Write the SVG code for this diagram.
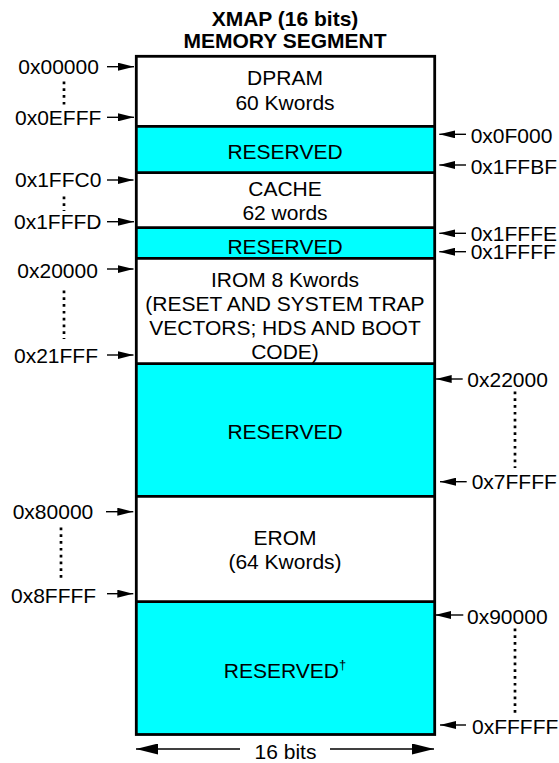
<svg xmlns="http://www.w3.org/2000/svg" width="559" height="763" viewBox="0 0 559 763">
<style>
text{font-family:"Liberation Sans",Arial,sans-serif;font-size:21px;fill:#000}
.c{text-anchor:middle}
.t{font-weight:bold}
.frame{fill:none;stroke:#000;stroke-width:2.8}
.div{stroke:#000;stroke-width:2.8}
.res{fill:#00FFFF}
.arr{stroke:#000;stroke-width:1.4;fill:none}
.dots{stroke:#000;stroke-width:2.7;stroke-dasharray:2.7 4.1;fill:none}
</style>
<defs>
<marker id="ah" markerUnits="userSpaceOnUse" markerWidth="16" markerHeight="8" refX="16" refY="4" orient="auto">
<path d="M0,0 L16,4 L0,8 z" fill="#000"/>
</marker>
<marker id="ahb" markerUnits="userSpaceOnUse" markerWidth="22" markerHeight="11" refX="22" refY="5.5" orient="auto">
<path d="M0,0 L22,5.5 L0,11 z" fill="#000"/>
</marker>
</defs>
<rect width="559" height="763" fill="#fff"/>
<g id="title">
<text class="c t" x="285" y="26">XMAP (16 bits)</text>
<text class="c t" x="285" y="48">MEMORY SEGMENT</text>
</g>
<g id="dpram">
<text class="c" x="285" y="85">DPRAM</text>
<text class="c" x="285" y="109.5">60 Kwords</text>
</g>
<g id="reserved1">
<rect class="res" x="136.3" y="126.3" width="298.4" height="46.4"/>
<text class="c" x="285" y="159">RESERVED</text>
</g>
<g id="cache">
<text class="c" x="285" y="196">CACHE</text>
<text class="c" x="285" y="220">62 words</text>
</g>
<g id="reserved2">
<rect class="res" x="136.3" y="227.7" width="298.4" height="30.6"/>
<text class="c" x="285" y="254">RESERVED</text>
</g>
<g id="irom">
<text class="c" x="285" y="286.7">IROM 8 Kwords</text>
<text class="c" x="285" y="311">(RESET AND SYSTEM TRAP</text>
<text class="c" x="285" y="335">VECTORS; HDS AND BOOT</text>
<text class="c" x="285" y="358.5">CODE)</text>
</g>
<g id="reserved3">
<rect class="res" x="136.3" y="363.7" width="298.4" height="132.6"/>
<text class="c" x="285" y="439">RESERVED</text>
</g>
<g id="erom">
<text class="c" x="285" y="545">EROM</text>
<text class="c" x="285" y="569">(64 Kwords)</text>
</g>
<g id="reserved4">
<rect class="res" x="136.3" y="601.7" width="298.4" height="132.8"/>
<text class="c" x="285" y="678.3">RESERVED<tspan font-size="13" dy="-9.3">†</tspan></text>
</g>
<g id="frame">
<rect class="frame" x="136.3" y="56.3" width="298.4" height="678.2"/>
<line class="div" x1="136.3" y1="126.3" x2="434.7" y2="126.3"/>
<line class="div" x1="136.3" y1="172.7" x2="434.7" y2="172.7"/>
<line class="div" x1="136.3" y1="227.7" x2="434.7" y2="227.7"/>
<line class="div" x1="136.3" y1="258.3" x2="434.7" y2="258.3"/>
<line class="div" x1="136.3" y1="363.7" x2="434.7" y2="363.7"/>
<line class="div" x1="136.3" y1="496.3" x2="434.7" y2="496.3"/>
<line class="div" x1="136.3" y1="601.7" x2="434.7" y2="601.7"/>
</g>
<g id="left-labels">
<text x="18.3" y="74">0x00000</text>
<text x="15" y="124.5">0x0EFFF</text>
<text x="15" y="187.3">0x1FFC0</text>
<text x="14" y="229.3">0x1FFFD</text>
<text x="17.3" y="277.5">0x20000</text>
<text x="14" y="363">0x21FFF</text>
<text x="12.7" y="519">0x80000</text>
<text x="11" y="602.5">0x8FFFF</text>
</g>
<g id="right-labels">
<text x="470.7" y="142.5">0x0F000</text>
<text x="470.7" y="173.5">0x1FFBF</text>
<text x="470.7" y="240.7">0x1FFFE</text>
<text x="470.7" y="259">0x1FFFF</text>
<text x="467.3" y="386.7">0x22000</text>
<text x="471.7" y="488.5">0x7FFFF</text>
<text x="467" y="623.5">0x90000</text>
<text x="472" y="733.5">0xFFFFF</text>
</g>
<g id="width-label">
<text class="c" x="285.5" y="759">16 bits</text>
</g>
<g id="connectors">
<line class="arr" x1="107" y1="66.7" x2="134" y2="66.7" marker-end="url(#ah)"/>
<line class="arr" x1="107" y1="117.3" x2="134" y2="117.3" marker-end="url(#ah)"/>
<line class="arr" x1="107" y1="180" x2="133.5" y2="180" marker-end="url(#ah)"/>
<line class="arr" x1="107" y1="221.7" x2="134" y2="221.7" marker-end="url(#ah)"/>
<line class="arr" x1="107" y1="269" x2="133.5" y2="269" marker-end="url(#ah)"/>
<line class="arr" x1="107" y1="355" x2="133.5" y2="355" marker-end="url(#ah)"/>
<line class="arr" x1="106" y1="511.7" x2="133.3" y2="511.7" marker-end="url(#ah)"/>
<line class="arr" x1="107" y1="593.7" x2="133.3" y2="593.7" marker-end="url(#ah)"/>
<line class="arr" x1="466" y1="134.3" x2="439.3" y2="134.3" marker-end="url(#ah)"/>
<line class="arr" x1="466" y1="165" x2="439.3" y2="165" marker-end="url(#ah)"/>
<line class="arr" x1="466" y1="233.3" x2="439.3" y2="233.3" marker-end="url(#ah)"/>
<line class="arr" x1="466" y1="251.7" x2="439.3" y2="251.7" marker-end="url(#ah)"/>
<line class="arr" x1="462.7" y1="379" x2="435.7" y2="379" marker-end="url(#ah)"/>
<line class="arr" x1="466.7" y1="481.7" x2="440" y2="481.7" marker-end="url(#ah)"/>
<line class="arr" x1="463.3" y1="615" x2="435" y2="615" marker-end="url(#ah)"/>
<line class="arr" x1="466" y1="725" x2="440" y2="725" marker-end="url(#ah)"/>
<line class="arr" x1="240" y1="749" x2="136" y2="749" marker-end="url(#ahb)"/>
<line class="arr" x1="330" y1="749" x2="434" y2="749" marker-end="url(#ahb)"/>
<line class="dots" x1="64" y1="81.5" x2="64" y2="107"/>
<line class="dots" x1="64" y1="196.5" x2="64" y2="211"/>
<line class="dots" x1="64" y1="290.5" x2="64" y2="339"/>
<line class="dots" x1="61" y1="527.5" x2="61" y2="582"/>
<line class="dots" x1="515" y1="391.5" x2="515" y2="468"/>
<line class="dots" x1="515" y1="628.5" x2="515" y2="713"/>
</g>
</svg>
